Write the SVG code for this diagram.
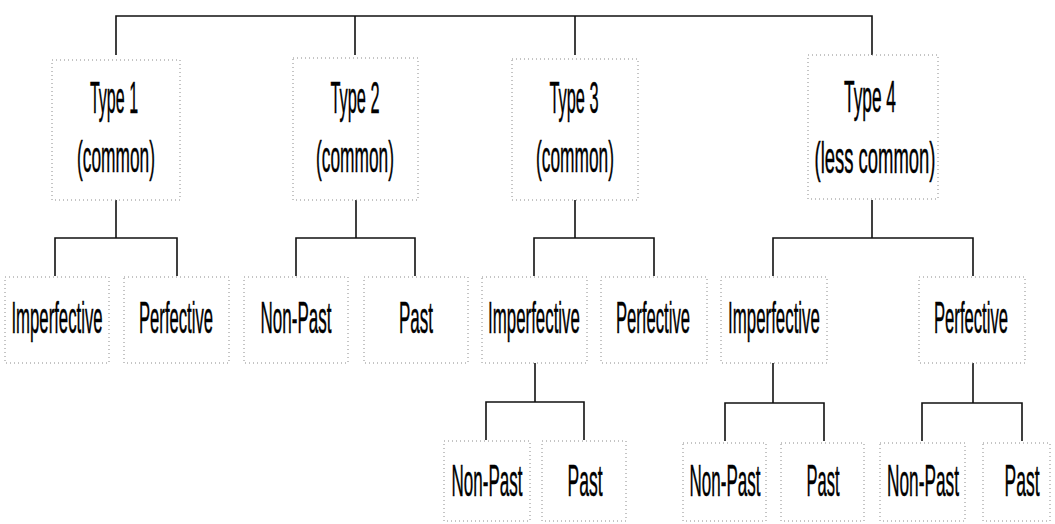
<svg xmlns="http://www.w3.org/2000/svg" width="1055" height="524" viewBox="0 0 1055 524">
<style>
  .box { fill: none; stroke: #8a8a8a; stroke-width: 1; stroke-dasharray: 1 3; }
  .conn { fill: none; stroke: #111; stroke-width: 1.6; }
  .lbl { font-family: "Liberation Sans", Arial, sans-serif; font-size: 45px; fill: #000; stroke: #000; stroke-width: 0.5px; text-anchor: middle; }
</style>
<rect width="1055" height="524" fill="#fff"/>
<g id="connectors">
  <path class="conn" d="M116,55 V16 H872 V55 M355,16 V55 M575,16 V55"/>
  <path class="conn" d="M116,200 V238 M55,276 V238 H177 V276"/>
  <path class="conn" d="M356,200 V238 M296,276 V238 H415 V276"/>
  <path class="conn" d="M575,200 V238 M534,276 V238 H654 V276"/>
  <path class="conn" d="M872,200 V238 M773,276 V238 H973 V276"/>
  <path class="conn" d="M535,363 V402 M486,440 V402 H584 V440"/>
  <path class="conn" d="M773,363 V403 M725,441 V403 H824 V441"/>
  <path class="conn" d="M973,363 V403 M922,441 V403 H1022 V441"/>
</g>
<g id="type1">
  <rect class="box" x="52" y="60" width="128" height="140"/>
  <text class="lbl" transform="translate(114,113) scale(0.356,1)">Type 1</text>
  <text class="lbl" transform="translate(116,172) scale(0.385,1)">(common)</text>
</g>
<g id="type2">
  <rect class="box" x="293" y="58" width="125" height="142"/>
  <text class="lbl" transform="translate(355,113) scale(0.364,1)">Type 2</text>
  <text class="lbl" transform="translate(355,172) scale(0.385,1)">(common)</text>
</g>
<g id="type3">
  <rect class="box" x="512" y="59" width="126" height="141"/>
  <text class="lbl" transform="translate(574,113) scale(0.364,1)">Type 3</text>
  <text class="lbl" transform="translate(575,172) scale(0.385,1)">(common)</text>
</g>
<g id="type4">
  <rect class="box" x="808" y="55" width="130" height="144"/>
  <text class="lbl" transform="translate(870,112) scale(0.385,1)">Type 4</text>
  <text class="lbl" transform="translate(875,173) scale(0.41,1)">(less common)</text>
</g>
<g id="t1-imperfective">
  <rect class="box" x="5" y="277" width="104" height="86"/>
  <text class="lbl" transform="translate(57,333) scale(0.372,1)">Imperfective</text>
</g>
<g id="t1-perfective">
  <rect class="box" x="124" y="277" width="105" height="86"/>
  <text class="lbl" transform="translate(176,333) scale(0.37,1)">Perfective</text>
</g>
<g id="t2-nonpast">
  <rect class="box" x="244" y="277" width="104" height="86"/>
  <text class="lbl" transform="translate(296,333) scale(0.378,1)">Non-Past</text>
</g>
<g id="t2-past">
  <rect class="box" x="364" y="277" width="104" height="86"/>
  <text class="lbl" transform="translate(416,333) scale(0.378,1)">Past</text>
</g>
<g id="t3-imperfective">
  <rect class="box" x="482" y="277" width="105" height="86"/>
  <text class="lbl" transform="translate(534,333) scale(0.375,1)">Imperfective</text>
</g>
<g id="t3-perfective">
  <rect class="box" x="601" y="277" width="106" height="86"/>
  <text class="lbl" transform="translate(653,333) scale(0.37,1)">Perfective</text>
</g>
<g id="t4-imperfective">
  <rect class="box" x="721" y="277" width="106" height="86"/>
  <text class="lbl" transform="translate(774,333) scale(0.375,1)">Imperfective</text>
</g>
<g id="t4-perfective">
  <rect class="box" x="919" y="277" width="106" height="86"/>
  <text class="lbl" transform="translate(971,333) scale(0.37,1)">Perfective</text>
</g>
<g id="t3-imp-nonpast">
  <rect class="box" x="444" y="441" width="86" height="80"/>
  <text class="lbl" transform="translate(487,496) scale(0.378,1)">Non-Past</text>
</g>
<g id="t3-imp-past">
  <rect class="box" x="542" y="441" width="84" height="80"/>
  <text class="lbl" transform="translate(585,496) scale(0.389,1)">Past</text>
</g>
<g id="t4-imp-nonpast">
  <rect class="box" x="683" y="443" width="83" height="78"/>
  <text class="lbl" transform="translate(725,496) scale(0.378,1)">Non-Past</text>
</g>
<g id="t4-imp-past">
  <rect class="box" x="781" y="443" width="83" height="78"/>
  <text class="lbl" transform="translate(823,496) scale(0.367,1)">Past</text>
</g>
<g id="t4-perf-nonpast">
  <rect class="box" x="880" y="443" width="85" height="78"/>
  <text class="lbl" transform="translate(923,496) scale(0.384,1)">Non-Past</text>
</g>
<g id="t4-perf-past">
  <rect class="box" x="983" y="443" width="67" height="78"/>
  <text class="lbl" transform="translate(1022,496) scale(0.389,1)">Past</text>
</g>
</svg>
